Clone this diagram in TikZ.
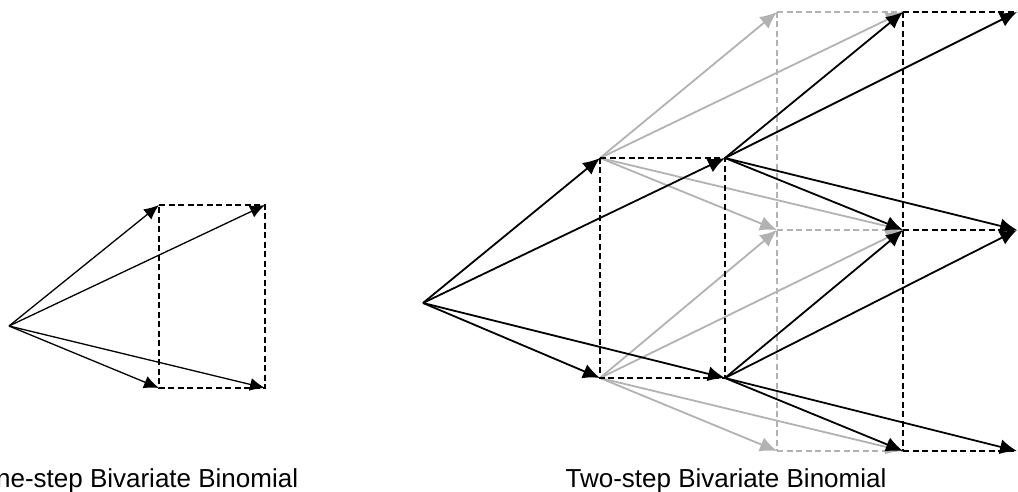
\documentclass[tikz,border=0pt]{standalone}
\usepackage{fontspec}
\setmainfont{Liberation Sans}
\usetikzlibrary{arrows.meta}
\definecolor{lgray}{RGB}{178,178,178}
\tikzset{
  arr/.style={line width=1.8pt,-{Latex[length=17pt,width=15pt]}},
  sarr/.style={line width=1.3pt,-{Latex[length=15pt,width=13pt]}},
  dsh/.style={line width=1.8pt,dash pattern=on 6pt off 3.5pt},
  sdsh/.style={line width=1.3pt,dash pattern=on 6pt off 3.5pt},
  gr/.style={draw=lgray,color=lgray},
  lbl/.style={font=\fontsize{26}{30}\selectfont,anchor=base}
}
\begin{document}
\begin{tikzpicture}[x=1pt,y=-1pt]
\useasboundingbox (0,0) rectangle (1018,492);
% left diagram
\coordinate (O) at (9,326);
\coordinate (A) at (159,205);
\coordinate (B) at (265,205);
\coordinate (C) at (159,388);
\coordinate (D) at (265,388);
\draw[sdsh] (A) -- (B) -- (D) -- (C) -- cycle;
\draw[sarr] (O) -- (A);
\draw[sarr] (O) -- (B);
\draw[sarr] (O) -- (C);
\draw[sarr] (O) -- (D);
% right diagram
\coordinate (R) at (423,303);
\coordinate (P1) at (600,158);
\coordinate (P2) at (725,158);
\coordinate (P3) at (600,378);
\coordinate (P4) at (725,378);
\coordinate (G1) at (777,12);
\coordinate (G2) at (777,230);
\coordinate (G3) at (777,451);
\coordinate (H1) at (903,12);
\coordinate (H2) at (903,230);
\coordinate (H3) at (903,451);
\coordinate (E1) at (1017,12);
\coordinate (E2) at (1017,230);
\coordinate (E3) at (1017,451);
% gray dashed
\draw[dsh,gr] (G1) -- (G3);
\draw[dsh,gr] (G1) -- (H1);
\draw[dsh,gr] (G2) -- (H2);
\draw[dsh,gr] (G3) -- (H3);
% gray arrows
\foreach \t in {G1,H1,G2,H2} \draw[arr,gr] (P1) -- (\t);
\foreach \t in {G2,H2,G3,H3} \draw[arr,gr] (P3) -- (\t);
% black dashed
\draw[dsh] (P1) -- (P2) -- (P4) -- (P3) -- cycle;
\draw[dsh] (H1) -- (H3);
\draw[dsh] (H1) -- (E1);
\draw[dsh] (H2) -- (E2);
\draw[dsh] (H3) -- (E3);
% black arrows
\foreach \t in {P1,P2,P3,P4} \draw[arr] (R) -- (\t);
\foreach \t in {H1,E1,H2,E2} \draw[arr] (P2) -- (\t);
\foreach \t in {H2,E2,H3,E3} \draw[arr] (P4) -- (\t);
% labels
\node[lbl] (L1) at (137,487) {One-step Bivariate Binomial};
\node[lbl] (L2) at (726,487) {Two-step Bivariate Binomial};
\end{tikzpicture}
\end{document}
